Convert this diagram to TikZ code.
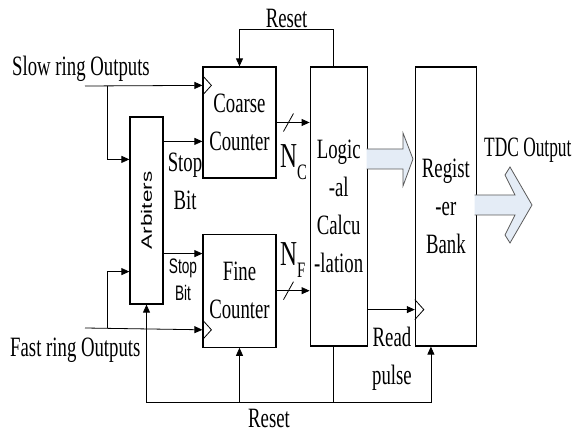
\documentclass[tikz,border=0pt]{standalone}
\usepackage{fontspec}
\setmainfont{Liberation Serif}[FakeStretch=0.67]
\newfontfamily\tdcfont{Liberation Serif}[FakeStretch=0.62]
\newfontfamily\bignfont{Liberation Serif}[FakeStretch=0.67]
\newfontfamily\narrowsans{Liberation Sans}[FakeStretch=0.65]
\newfontfamily\widesans{Liberation Sans}[FakeStretch=1.5]
\usetikzlibrary{arrows.meta, positioning}
\definecolor{ink}{HTML}{000000}
\definecolor{fatfill}{HTML}{E4ECF6}
\definecolor{fatline}{HTML}{5A5A5A}

\begin{document}
\begin{tikzpicture}[x=1pt, y=1pt, font=\fontsize{28}{38}\selectfont,
    blk/.style={draw=ink, line width=1.2pt, inner sep=0pt, align=center},
    wire/.style={ink, line width=0.8pt},
    sig/.style={wire, -{Triangle[length=8pt, width=7pt]}},
    fat/.style={draw=fatline, fill=fatfill, line width=0.8pt},
    lbl/.style={inner sep=0pt, align=center}]
  \useasboundingbox (0,0) rectangle (579,434);
  % blocks
  \node[blk, minimum width=33pt, minimum height=187pt] (arb) at (146.5,223.5) {};
  \node[rotate=90, font=\widesans\fontsize{15}{15}\selectfont] (arbtxt) at (arb.center) {Arbiters};
  \node[blk, minimum width=73pt, minimum height=111pt] (coarse) at (239.5,311.5) {Coarse\\Counter};
  \node[blk, minimum width=73pt, minimum height=113pt, below=55pt of coarse] (fine) {Fine\\Counter};
  \node[blk, minimum width=57pt, minimum height=279pt, anchor=north west] (logic)
    at ([xshift=33pt]coarse.north east) {Logic\\-al\\Calcu\\-lation};
  \node[blk, minimum width=61pt, minimum height=279pt, right=47pt of logic] (reg) {Regist\\-er\\Bank};

  % inputs
  \coordinate (slowin) at (85,348);
  \coordinate (fastin) at (85,106);
  \coordinate (slowtap) at (107,348);
  \coordinate (fasttap) at (107,106);
  \coordinate (clkC) at ([yshift=-19pt]coarse.north west);
  \coordinate (clkF) at ([yshift=18pt]fine.south west);
  \coordinate (stopC) at ([yshift=-25pt]arb.north east);
  \coordinate (stopF) at ([yshift=51pt]arb.south east);
  \coordinate (rdclk) at ([yshift=37pt]reg.south west);
  \draw[sig] (slowin) -- (clkC);
  \draw[sig] (fastin) -- (clkF);
  \draw[sig] (slowtap) |- ([yshift=-43pt]arb.north west);
  \draw[sig] (fasttap) |- ([yshift=33pt]arb.south west);
  \draw[sig] (stopC) -- (stopC -| coarse.west);
  \draw[sig] (stopF) -- (stopF -| fine.west);
  \draw[sig] (rdclk -| logic.east) -- (rdclk);
  % clock marks
  \draw[wire] ([yshift=10pt]clkC) -- ++(9,-10) -- ++(-9,-10);
  \draw[wire] ([yshift=10pt]clkF) -- ++(9,-10) -- ++(-9,-10);
  \draw[wire] ([yshift=10pt]rdclk) -- ++(9,-10) -- ++(-9,-10);

  % buses
  \draw[sig] (coarse.east) -- coordinate[pos=0.36] (ncbus) (coarse.east -| logic.west);
  \draw[sig] (fine.east) -- coordinate[pos=0.36] (nfbus) (fine.east -| logic.west);
  \draw[wire] ([shift={(-5,-9)}]ncbus) -- ([shift={(5,9)}]ncbus);
  \draw[wire] ([shift={(-5,-9)}]nfbus) -- ([shift={(5,9)}]nfbus);
  \node[lbl, anchor=base west] (nc) at (280,266)
    {\bignfont\fontsize{35}{35}\selectfont N\raisebox{-12pt}{\fontsize{22}{22}\selectfont C}};
  \node[lbl, anchor=base west] (nf) at (280,168)
    {\bignfont\fontsize{35}{35}\selectfont N\raisebox{-12pt}{\fontsize{22}{22}\selectfont F}};

  % reset lines
  \coordinate (rsttop) at (0,405);
  \coordinate (rstbot) at (0,32);
  \coordinate (lgtop) at ([xshift=-5pt]logic.north);
  \coordinate (lgbot) at ([xshift=-5pt]logic.south);
  \coordinate (regrst) at ([xshift=-15pt]reg.south);
  \draw[sig] (lgtop) |- node[lbl, pos=0.75, above=1pt] {Reset} (coarse.north |- rsttop) -- (coarse.north);
  \draw[sig] (lgbot) |- (arb.south |- rstbot) -- (arb.south);
  \draw[sig] (lgbot |- rstbot) -| (regrst);
  \draw[sig] (fine.south |- rstbot) -- (fine.south);
  \node[lbl, anchor=base] (rstlbl) at (269,6) {Reset};

  % wide arrows
  \draw[fat] (366.6,285) -- (403,285) -- (403,301) -- (413,275) -- (403,248) -- (403,265) -- (366.6,265);
  \draw[fat] (474.6,239) -- (515,239) -- (505,259) -- (510,267) -- (532,229) -- (510,191)
    -- (505,199) -- (515,219) -- (474.6,219);

  % labels
  \node[lbl, anchor=base west] (slowlbl) at (12,358) {Slow ring Outputs};
  \node[lbl, anchor=base west] (fastlbl) at (10,77) {Fast ring Outputs};
  \node[lbl, anchor=north] (stopc) at (185,281) {Stop\\Bit};
  \node[lbl, anchor=north, font=\narrowsans\fontsize{21}{27}\selectfont] (stopf) at (183,175) {Stop\\Bit};
  \node[lbl, anchor=north] (rdlbl) at (392,107) {Read\\pulse};
  \node[lbl, anchor=base west, font=\tdcfont\fontsize{28}{38}\selectfont] (tdclbl) at (484,277) {TDC Output};
\end{tikzpicture}
\end{document}
